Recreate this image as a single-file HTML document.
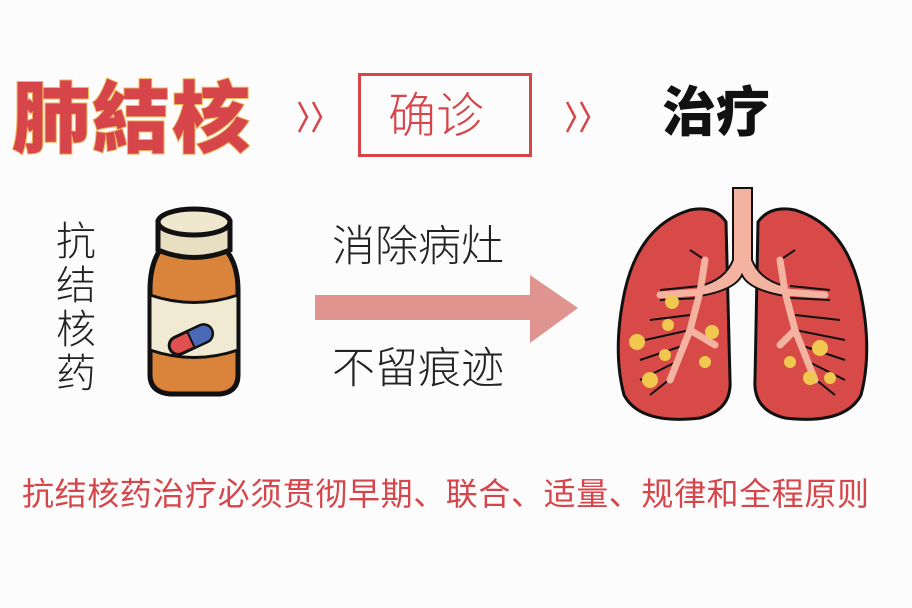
<!DOCTYPE html>
<html><head><meta charset="utf-8"><style>
html,body{margin:0;padding:0;background:#fcfcfc;}
body{width:912px;height:608px;position:relative;overflow:hidden;font-family:"Liberation Sans","Noto Sans CJK SC",sans-serif;}
.a{position:absolute;white-space:nowrap;line-height:1;}
</style></head><body>
<div class="a" style="left:12px;top:74px;font-size:78px;font-weight:900;color:#d6454a;-webkit-text-stroke:2px #f0b45a;paint-order:stroke fill;letter-spacing:2px;font-family:'Noto Sans CJK TC','Noto Sans CJK SC',sans-serif;">肺結核</div>
<div style="position:absolute;left:358px;top:73px;width:168px;height:78px;border:3px solid #d6454a;"></div>
<div class="a" style="left:388px;top:93px;font-size:48px;color:#d6454a;font-weight:300;">确诊</div>
<div class="a" style="left:662px;top:86px;font-size:54px;font-weight:900;color:#111;">治疗</div>
<div class="a" style="left:56px;top:220px;font-size:40px;line-height:44px;width:44px;white-space:normal;color:#222;font-weight:300;">抗结核药</div>
<svg style="position:absolute;left:0;top:0" width="912" height="608">
 <g stroke="#d6454a" stroke-width="2.5" fill="none">
  <polyline points="299,102 307,117 299,132"/><polyline points="313,102 321,117 313,132"/>
  <polyline points="567,102 575,117 567,132"/><polyline points="581,102 589,117 581,132"/>
 </g>
 <path d="M160 250 Q150 265 150 290 L150 375 Q150 392 170 394 L220 394 Q238 392 238 375 L238 290 Q238 265 226 250 Z" fill="#d9843a" stroke="#111" stroke-width="5"/>
 <path d="M150 295 Q194 310 238 295 L238 350 Q194 365 150 350 Z" fill="#f0ead2" stroke="#111" stroke-width="3"/>
 <path d="M158 222 L158 250 Q194 265 230 250 L230 222 Z" fill="#e8dfc2" stroke="#111" stroke-width="5"/>
 <ellipse cx="194" cy="222" rx="36" ry="13" fill="#efe8cf" stroke="#111" stroke-width="5"/>
 <g transform="rotate(-25 190 340)">
  <rect x="168" y="331" width="46" height="18" rx="9" fill="#e05050" stroke="#111" stroke-width="3"/>
  <path d="M191 331 L205 331 A9 9 0 0 1 205 349 L191 349 Z" fill="#4a6ab8" stroke="#111" stroke-width="2"/>
 </g>
 <rect x="315" y="295" width="218" height="25" fill="#e0948f"/>
 <polygon points="530,275 578,308 530,343" fill="#e0948f"/>
 <path d="M726 222 Q715 205 690 210 Q640 225 625 290 Q612 350 624 395 Q640 425 700 418 Q732 410 730 380 Z" fill="#d74a48" stroke="#111" stroke-width="3"/>
 <path d="M758 222 Q770 205 795 210 Q845 225 860 290 Q873 350 861 395 Q845 425 785 418 Q753 410 755 380 Z" fill="#d74a48" stroke="#111" stroke-width="3"/>
 <path d="M733 188 L733 260 Q725 280 700 286 L700 296 Q735 290 742 275 Q749 290 785 296 L785 286 Q760 280 752 260 L752 188 Z" fill="#f4b3a0" stroke="#111" stroke-width="2"/>
 <g stroke="#111" stroke-width="2" fill="none">
  <path d="M700 286 L660 290 M700 298 L660 300 M690 315 L650 320 M690 330 L645 340 M685 345 L640 360 M680 360 L640 380 M675 375 L650 395 M705 260 L690 250 M790 286 L830 290 M790 298 L830 300 M795 315 L840 320 M795 330 L845 340 M800 345 L845 360 M805 360 L845 380 M810 375 L835 395 M780 260 L795 250"/>
 </g>
 <g stroke="#f4b3a0" stroke-width="7" fill="none" stroke-linecap="round">
  <path d="M700 292 L660 295 M700 292 L690 330 L670 380 M690 330 L715 345 M700 292 L705 260 M785 292 L825 295 M785 292 L795 330 L815 380 M795 330 L780 345 M785 292 L780 260"/>
 </g>
 <g fill="#f0c850">
  <circle cx="672" cy="302" r="7"/><circle cx="668" cy="325" r="6"/><circle cx="637" cy="342" r="8"/><circle cx="712" cy="332" r="7"/><circle cx="665" cy="355" r="6"/><circle cx="705" cy="362" r="6"/><circle cx="650" cy="380" r="8"/>
  <circle cx="820" cy="348" r="8"/><circle cx="790" cy="362" r="6"/><circle cx="810" cy="378" r="7"/><circle cx="830" cy="378" r="6"/>
 </g>
</svg>
<div class="a" style="left:332px;top:226px;font-size:43px;color:#222;font-weight:300;">消除病灶</div>
<div class="a" style="left:332px;top:348px;font-size:43px;color:#222;font-weight:300;">不留痕迹</div>
<div class="a" style="left:22px;top:478px;font-size:32px;color:#d6454a;letter-spacing:0.6px;">抗结核药治疗必须贯彻早期、联合、适量、规律和全程原则</div>
</body></html>
